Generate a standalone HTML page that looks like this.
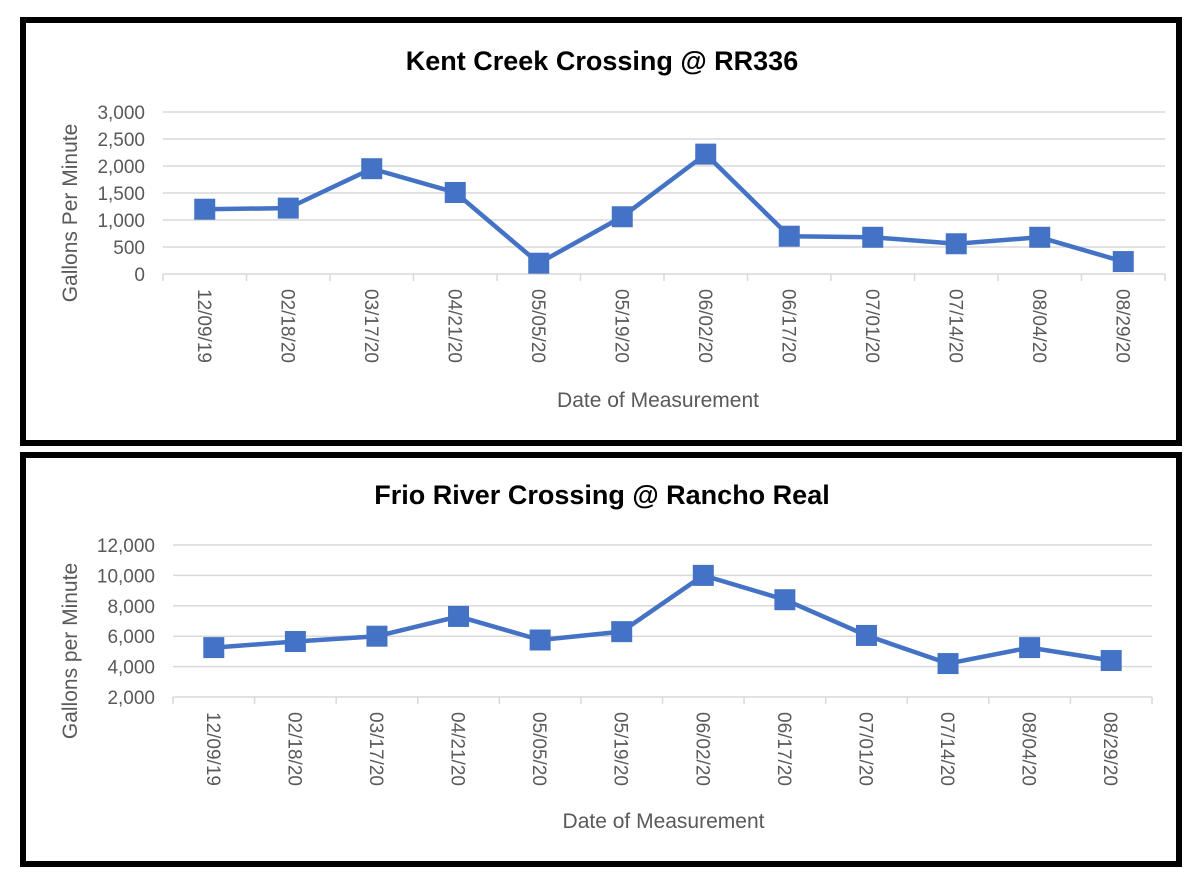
<!DOCTYPE html>
<html><head><meta charset="utf-8"><style>
body{margin:0;background:#fff;}
svg{display:block;font-family:"Liberation Sans",sans-serif;}
</style></head><body>
<svg id="s" width="1200" height="882" viewBox="0 0 1200 882">
<rect x="23" y="20" width="1156" height="423" fill="#fff" stroke="#000" stroke-width="6"/>
<rect x="23" y="455" width="1156" height="409" fill="#fff" stroke="#000" stroke-width="6"/>
<text x="602" y="70" text-anchor="middle" font-size="27" font-weight="bold" fill="#000">Kent Creek Crossing @ RR336</text>
<text x="602" y="504" text-anchor="middle" font-size="27" font-weight="bold" fill="#000">Frio River Crossing @ Rancho Real</text>
</svg>
<script>
const categories=["12/09/19","02/18/20","03/17/20","04/21/20","05/05/20","05/19/20","06/02/20","06/17/20","07/01/20","07/14/20","08/04/20","08/29/20"];
const kentValues=[1200,1220,1950,1510,200,1060,2220,700,680,560,680,230];
const kentTicks=[0,500,1000,1500,2000,2500,3000];
const frioValues=[5250,5650,6000,7300,5750,6300,10000,8400,6050,4200,5250,4400];
const frioTicks=[2000,4000,6000,8000,10000,12000];
const svg=document.getElementById('s');
const NS='http://www.w3.org/2000/svg';
function mk(tag,attrs,parent){const e=document.createElementNS(NS,tag);for(const k in attrs)e.setAttribute(k,attrs[k]);(parent||svg).appendChild(e);return e;}
function chart(prefix,cfg,values,ticks,yTitle){
  const {left,right,top,bottom,min,max}=cfg;
  const n=categories.length,step=(right-left)/n;
  const x=i=>left+step*(i+0.5);
  const y=v=>bottom-(v-min)/(max-min)*(bottom-top);
  ticks.forEach(t=>{
    const l=mk('line',{x1:left,x2:right,y1:y(t),y2:y(t),stroke:'#d9d9d9','stroke-width':1.5});
    
    
    const tx=mk('text',{x:left-18,y:y(t)+7,'text-anchor':'end','font-size':19,fill:'#595959'});
    tx.textContent=t.toLocaleString('en-US');
    
    
  });
  for(let i=0;i<=n;i++){
    const tk=mk('line',{x1:left+step*i,x2:left+step*i,y1:bottom,y2:bottom+7,stroke:'#d9d9d9','stroke-width':1.5});
    
    
  }
  categories.forEach((c,i)=>{
    const t=mk('text',{x:0,y:0,'font-size':19,fill:'#595959',transform:`translate(${x(i)-7},${bottom+15}) rotate(90)`});
    t.textContent=c;
    
    
  });
  const pts=values.map((v,i)=>x(i)+','+y(v)).join(' ');
  const pl=mk('polyline',{points:pts,fill:'none',stroke:'#4472c4','stroke-width':4.5,'stroke-linejoin':'round'});
  
  
  values.forEach((v,i)=>{
    const r=mk('rect',{x:x(i)-10.5,y:y(v)-10.5,width:21,height:21,fill:'#4472c4'});
    
    
  });
  const yt=mk('text',{x:0,y:0,'text-anchor':'middle','font-size':21,fill:'#595959',transform:`translate(${cfg.yTitleX},${(top+bottom)/2+ (cfg.yTitleDy||0)}) rotate(-90)`});
  yt.textContent=yTitle;
  
  
  const xt=mk('text',{x:(left+right)/2+ (cfg.xTitleDx||0),y:cfg.xTitleY,'text-anchor':'middle','font-size':21,fill:'#595959'});
  xt.textContent='Date of Measurement';
  
  
}
chart('kent',{left:163,right:1165,top:112,bottom:274,min:0,max:3000,yTitleX:77,yTitleDy:20,xTitleY:407,xTitleDx:-6},kentValues,kentTicks,'Gallons Per Minute');
chart('frio',{left:173,right:1152,top:545,bottom:697,min:2000,max:12000,yTitleX:77,yTitleDy:30,xTitleY:828,xTitleDx:1},frioValues,frioTicks,'Gallons per Minute');
</script>
</body></html>
